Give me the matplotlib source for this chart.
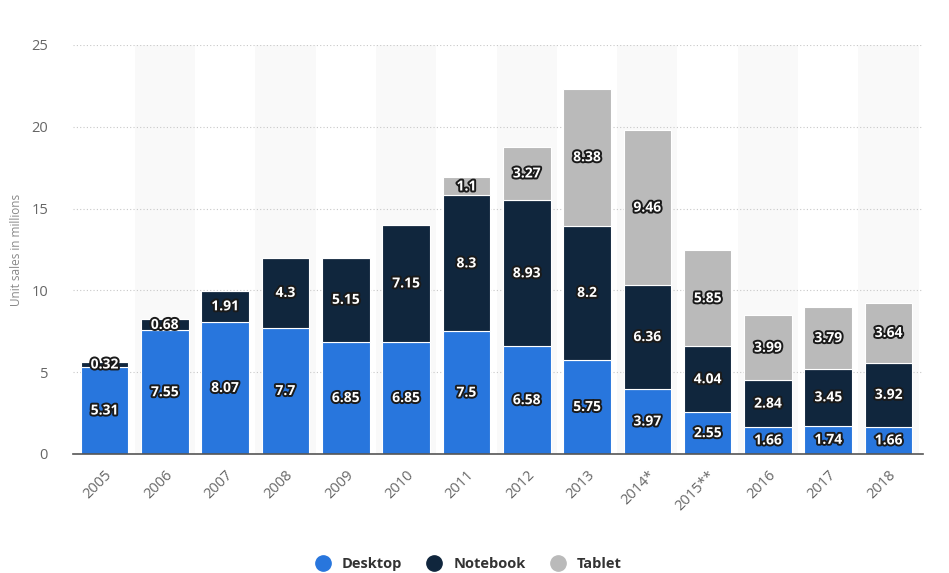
import matplotlib.pyplot as plt
import matplotlib.patheffects as pe
from matplotlib.lines import Line2D
import numpy as np

years = ["2005", "2006", "2007", "2008", "2009", "2010", "2011", "2012",
         "2013", "2014*", "2015**", "2016", "2017", "2018"]
desktop = [5.31, 7.55, 8.07, 7.7, 6.85, 6.85, 7.5, 6.58, 5.75, 3.97, 2.55, 1.66, 1.74, 1.66]
notebook = [0.32, 0.68, 1.91, 4.3, 5.15, 7.15, 8.3, 8.93, 8.2, 6.36, 4.04, 2.84, 3.45, 3.92]
tablet = [0, 0, 0, 0, 0, 0, 1.1, 3.27, 8.38, 9.46, 5.85, 3.99, 3.79, 3.64]

c_desk = "#2876dd"
c_note = "#10263d"
c_tab = "#bababa"

plt.rcParams["font.family"] = "Open Sans"

fig = plt.figure(figsize=(9.49, 5.73), dpi=100)
ax = fig.add_axes([0.077, 0.2077, 0.8956, 0.7138])

x = np.arange(len(years))

# alternating light bands behind every second category
for i in x:
    if i % 2 == 1:
        ax.axvspan(i - 0.5, i + 0.5, color="#f9f9f9", zorder=0, lw=0)

desk = np.array(desktop)
note = np.array(notebook)
tab = np.array(tablet)

w = 0.79
ax.bar(x, desk, w, color=c_desk, edgecolor="white", linewidth=0.8, zorder=2)
ax.bar(x, note, w, bottom=desk, color=c_note, edgecolor="white", linewidth=0.8, zorder=2)
ax.bar(x, tab, w, bottom=desk + note, color=c_tab, edgecolor="white", linewidth=0.8, zorder=2)

stroke = [pe.withStroke(linewidth=2.8, foreground="#1a1a1a")]


def label(xs, vals, bottoms):
    for xi, v, b in zip(xs, vals, bottoms):
        if v <= 0:
            continue
        ax.text(xi, b + v / 2, f"{v:g}", ha="center", va="center", color="white",
                fontsize=10, fontweight="bold", path_effects=stroke, zorder=5)


label(x, desk, np.zeros(len(x)))
label(x, note, desk)
label(x, tab, desk + note)

ax.set_xlim(-0.52, 13.57)
ax.set_ylim(0, 25)
ax.set_yticks([0, 5, 10, 15, 20, 25])
ax.yaxis.grid(True, linestyle=(0, (1, 2)), color="#c8c8c8", linewidth=0.8)
ax.set_axisbelow(True)
ax.set_xticks(x)
ax.set_xticklabels(years, rotation=45, ha="right", rotation_mode="anchor")
ax.tick_params(axis="both", length=0, colors="#666666", labelsize=10.5)
ax.tick_params(axis="x", pad=10)
ax.tick_params(axis="y", pad=18)

for s in ["top", "right", "left"]:
    ax.spines[s].set_visible(False)
ax.spines["bottom"].set_color("#555555")
ax.spines["bottom"].set_linewidth(1.2)

ax.set_ylabel("Unit sales in millions", color="#888888", fontsize=8.5, labelpad=6)

handles = [Line2D([], [], marker="o", linestyle="", markersize=11, color=c)
           for c in [c_desk, c_note, c_tab]]
fig.legend(handles, ["Desktop", "Notebook", "Tablet"], loc="lower center",
           bbox_to_anchor=(0.49, -0.02), ncol=3, frameon=False,
           prop={"weight": "bold", "size": 10.5}, labelcolor="#333333",
           handletextpad=0.3, columnspacing=1.2)

fig.savefig("out.png", dpi=100)
